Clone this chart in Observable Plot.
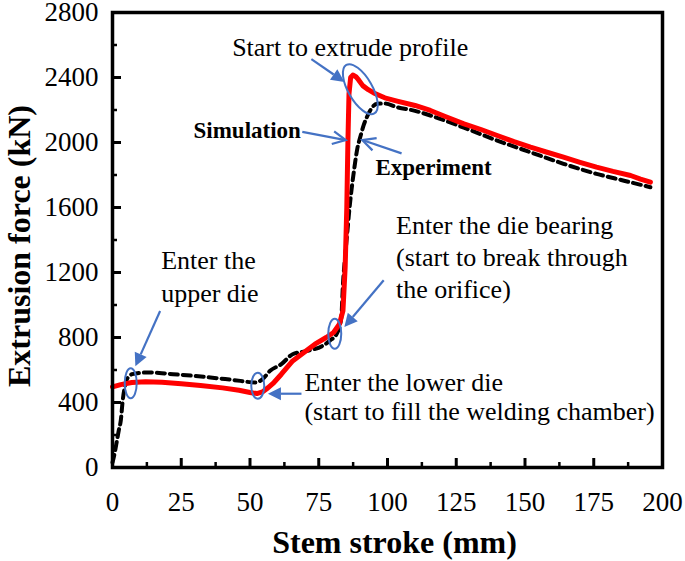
<!DOCTYPE html>
<html>
<head>
<meta charset="utf-8">
<script src="https://cdn.jsdelivr.net/npm/d3@7"></script>
<script src="https://cdn.jsdelivr.net/npm/@observablehq/plot@0.6"></script>
<style>
  html, body { margin: 0; padding: 0; background: #fff; }
</style>
</head>
<body>
<div id="chart"></div>
<script>
// ---- axis ticks ----
const xTicks = [0, 25, 50, 75, 100, 125, 150, 175, 200];
const xMinorTicks = [12.5, 37.5, 62.5, 87.5, 112.5, 137.5, 162.5, 187.5];
const yTicks = [0, 400, 800, 1200, 1600, 2000, 2400, 2800];
const yMinorTicks = [200, 600, 1000, 1400, 1800, 2200, 2600];

// ---- Simulation (red solid) ----
const simStroke = [0, 3, 7, 12, 18, 25, 32, 40, 46, 50, 52.5, 54.5, 56.5, 58.7, 61.4, 65.5, 69.6, 73.6, 77.7, 80.4, 82.5, 83.8, 84.6, 85.2, 85.6, 86.0, 86.6, 87.4, 88.5, 89.5, 91, 93, 95, 99, 103.5, 110, 115.6, 121, 127.8, 134, 139.9, 146, 152, 158, 164, 170, 176, 182, 188.4, 192, 195.6];
const simForce  = [496, 510, 523, 527, 524, 515, 505, 490, 475, 462, 455, 465, 490, 523, 574, 656, 708, 759, 800, 831, 882, 964, 1231, 1600, 2000, 2300, 2400, 2415, 2405, 2385, 2350, 2325, 2305, 2275, 2255, 2228, 2197, 2160, 2115, 2080, 2043, 2005, 1971, 1940, 1910, 1878, 1848, 1822, 1797, 1775, 1756];

// ---- Experiment (black dashed) ----
const expStroke = [0, 0.8, 1.6, 2.3, 3, 3.7, 5, 6, 7.1, 9, 12.5, 17, 22, 29, 35.6, 41, 46.5, 51.9, 54.6, 57.3, 61.4, 65.5, 70.9, 76.4, 79, 81.8, 83.2, 83.8, 84.6, 85.4, 86.2, 87, 88, 89, 90.2, 91.4, 92.6, 94, 96.2, 99, 103.5, 110, 115.6, 128, 139.9, 152, 164, 176, 186, 195.6];
const expForce  = [30, 90, 164, 230, 287, 410, 533, 560, 574, 580, 585, 582, 574, 565, 554, 544, 533, 523, 544, 595, 636, 697, 718, 749, 780, 831, 923, 1128, 1300, 1450, 1600, 1720, 1850, 1960, 2040, 2110, 2160, 2205, 2238, 2240, 2217, 2195, 2166, 2090, 2012, 1940, 1869, 1807, 1765, 1725];

// ---- annotation texts ----
const noteText   = ["Start to extrude profile", "Enter the", "upper die", "Enter the die bearing", "(start to break through", "the orifice)", "Enter the lower die", "(start to fill the welding chamber)"];
const noteX      = [43.5, 17.7, 17.7, 103.1, 103.1, 103.1, 69.8, 69.8];
const noteY      = [2585, 1270, 1072, 1489, 1292, 1092, 525, 345];
const simLabel = "Simulation";
const simLabelX = 68.5, simLabelY = 2074;
const expLabel = "Experiment";
const expLabelX = 95.6, expLabelY = 1848;

// ---- annotation ellipses (centre in data units) ----
const ellX = [6.8, 53, 81, 90.3];
const ellY = [515, 500, 820, 2325];
const ellRx = [6, 6.5, 6.5, 12];
const ellRy = [15, 13, 15, 28];
const ellRot = [0, 0, 0, -30];

// ---- annotation arrows (tail -> head, data units) ----
const arrX1 = [72.5, 69.2, 105.3, 17.5, 68.9, 98.8];
const arrY1 = [2510, 2062, 1930, 960, 451, 1149];
const arrX2 = [84.5, 85.0, 91.0, 8.5, 56.7, 84.5];
const arrY2 = [2370, 2012, 2012, 620, 451, 862];
const arrFilled = [true, false, false, true, true, true];

const sim = simStroke.map((x, i) => ({x, y: simForce[i]}));
const exp = expStroke.map((x, i) => ({x, y: expForce[i]}));
const notes = noteText.map((t, i) => ({t, x: noteX[i], y: noteY[i]}));

const serif = "'Liberation Serif', 'Times New Roman', Times, serif";
const blue = "#4472C4";

const chart = Plot.plot({
  width: 685,
  height: 561,
  marginLeft: 112,
  marginRight: 23,
  marginTop: 12,
  marginBottom: 94,
  style: {fontFamily: serif, color: "black", background: "white", overflow: "visible"},
  x: {domain: [0, 200]},
  y: {domain: [0, 2800]},
  marks: [
    // tick marks pointing inward
    Plot.axisX({ticks: xTicks, tickSize: -9, strokeWidth: 3, tickFormat: () => "", label: null}),
    Plot.axisX({ticks: xMinorTicks, tickSize: -5, strokeWidth: 2.5, tickFormat: () => "", label: null}),
    Plot.axisY({ticks: yTicks, tickSize: -9, strokeWidth: 3, tickFormat: () => "", label: null}),
    Plot.axisY({ticks: yMinorTicks, tickSize: -5, strokeWidth: 2.5, tickFormat: () => "", label: null}),
    // tick labels
    Plot.axisX({ticks: xTicks, tickSize: 0, tickPadding: 24, fontSize: 27, fontFamily: serif, label: null, tickFormat: d => String(d)}),
    Plot.axisY({ticks: yTicks, tickSize: 0, tickPadding: 14, fontSize: 27, fontFamily: serif, label: null, tickFormat: d => String(d)}),
    // data
    Plot.line(exp, {x: "x", y: "y", stroke: "black", strokeWidth: 4, strokeDasharray: "8,5", curve: "monotone-x"}),
    Plot.line(sim, {x: "x", y: "y", stroke: "#ff0000", strokeWidth: 5, curve: "linear"}),
    Plot.frame({strokeWidth: 3.5}),
    // annotations
    Plot.text(notes, {x: "x", y: "y", text: "t", textAnchor: "start", fontSize: 26, fontFamily: serif, fill: "black"}),
    Plot.text([simLabel], {x: () => simLabelX, y: () => simLabelY, text: d => d, textAnchor: "end", fontSize: 23, fontWeight: "bold", fontFamily: serif, fill: "black"}),
    Plot.text([expLabel], {x: () => expLabelX, y: () => expLabelY, text: d => d, textAnchor: "start", fontSize: 23, fontWeight: "bold", fontFamily: serif, fill: "black"}),
    // axis titles
    Plot.text(["Stem stroke (mm)"], {frameAnchor: "bottom", textAnchor: "middle", lineAnchor: "middle", dy: 75, dx: 7, fontSize: 32, fontWeight: "bold", fontFamily: serif, fill: "black"}),
    Plot.text(["Extrusion force (kN)"], {frameAnchor: "left", textAnchor: "middle", lineAnchor: "middle", dx: -93, dy: 6, rotate: -90, fontSize: 32, fontWeight: "bold", fontFamily: serif, fill: "black"})
  ]
});

document.getElementById("chart").appendChild(chart);

const sx = chart.scale("x"), sy = chart.scale("y");
const svg = d3.select(chart);
const g = svg.append("g");

// ellipses
ellX.forEach((cx, i) => {
  const px = sx.apply(cx), py = sy.apply(ellY[i]);
  g.append("ellipse")
    .attr("cx", 0).attr("cy", 0)
    .attr("rx", ellRx[i]).attr("ry", ellRy[i])
    .attr("transform", `translate(${px},${py}) rotate(${ellRot[i]})`)
    .attr("fill", "none").attr("stroke", blue).attr("stroke-width", 2);
});

// arrows
arrX1.forEach((x1, i) => {
  const ax = sx.apply(x1), ay = sy.apply(arrY1[i]);
  const bx = sx.apply(arrX2[i]), by = sy.apply(arrY2[i]);
  const dx = bx - ax, dy = by - ay, L = Math.hypot(dx, dy);
  const ux = dx / L, uy = dy / L;
  const hl = 13, hw = 6.5;
  const baseX = bx - ux * hl, baseY = by - uy * hl;
  const pX = -uy, pY = ux;
  if (arrFilled[i]) {
    g.append("line").attr("x1", ax).attr("y1", ay).attr("x2", baseX).attr("y2", baseY)
      .attr("stroke", blue).attr("stroke-width", 2.2);
    g.append("path")
      .attr("d", `M${bx},${by}L${baseX + pX * hw},${baseY + pY * hw}L${baseX - pX * hw},${baseY - pY * hw}Z`)
      .attr("fill", blue);
  } else {
    g.append("line").attr("x1", ax).attr("y1", ay).attr("x2", bx).attr("y2", by)
      .attr("stroke", blue).attr("stroke-width", 2.2);
    g.append("path")
      .attr("d", `M${baseX + pX * hw},${baseY + pY * hw}L${bx},${by}L${baseX - pX * hw},${baseY - pY * hw}`)
      .attr("fill", "none").attr("stroke", blue).attr("stroke-width", 2.2);
  }
});
</script>
</body>
</html>
